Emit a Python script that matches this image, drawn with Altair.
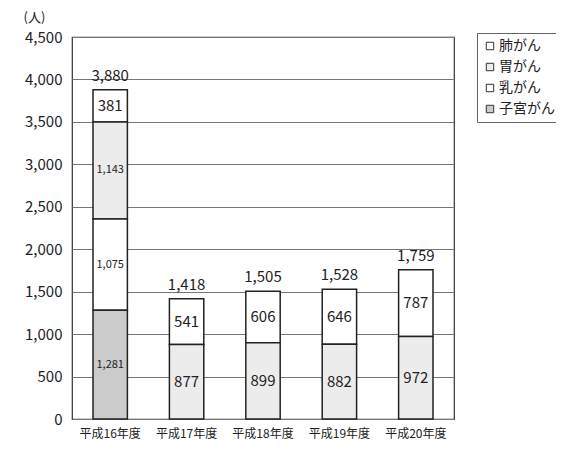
import altair as alt
import pandas as pd

years = ["平成16年度", "平成17年度", "平成18年度", "平成19年度", "平成20年度"]
cancers = ["肺がん", "胃がん", "乳がん", "子宮がん"]
stack_rank = {"子宮がん": 0, "乳がん": 1, "胃がん": 2, "肺がん": 3}
lung = [381, 541, 606, 646, 787]
stomach = [1143, 877, 899, 882, 972]
breast = [1075, None, None, None, None]
uterus = [1281, None, None, None, None]
totals = [3880, 1418, 1505, 1528, 1759]
colors = ["#ffffff", "#ececec", "#ffffff", "#cbcbcb"]

rows = []
for name, vals in zip(cancers, [lung, stomach, breast, uterus]):
    for y, v in zip(years, vals):
        if v is not None:
            rows.append({"year": y, "cancer": name, "value": v, "rank": stack_rank[name],
                         "small": 1 if v >= 1000 else 0})
df = pd.DataFrame(rows)
tot = pd.DataFrame({"year": years, "total": totals})

FONT = "Noto Sans CJK JP"

x = alt.X("year:N", sort=years, title=None,
          axis=alt.Axis(labelAngle=0, labelFontSize=12, labelPadding=9, ticks=False,
                        domain=False, labelColor="#222"))
ybase = alt.Scale(domain=[0, 4500], nice=False)

bars = alt.Chart(df).mark_bar(stroke="#222", strokeWidth=1.5).encode(
    x=x,
    y=alt.Y("value:Q", scale=ybase, stack="zero",
            title="(人)",
            axis=alt.Axis(values=list(range(0, 4501, 500)), format=",d", labelFontSize=15,
                          labelColor="#222", ticks=False, labelPadding=10, domain=False,
                          gridColor="#777", gridWidth=1,
                          titleAngle=0, titleX=-38, titleY=-13, titleFontSize=13,
                          titleFontWeight="normal", titleColor="#222", titleAlign="center")),
    color=alt.Color("cancer:N", scale=alt.Scale(domain=cancers, range=colors),
                    legend=alt.Legend(title=None, orient="none", legendX=405, legendY=-4,
                                      labelFontSize=14, labelColor="#222", symbolType="square",
                                      symbolSize=55, symbolStrokeColor="#333", symbolStrokeWidth=1,
                                      strokeColor="#666", padding=6, rowPadding=7,
                                      labelOffset=2, labelLimit=120)),
    order=alt.Order("rank:Q"),
)

seg = alt.Chart(df).transform_stack(
    stack="value", groupby=["year"], as_=["v0", "v1"], sort=[alt.SortField("rank")]
).transform_calculate(mid="(datum.v0 + datum.v1) / 2")

seg_big = seg.transform_filter("datum.small == 0").mark_text(
    fontSize=15, font=FONT, color="#222").encode(
    x=x, y=alt.Y("mid:Q", scale=ybase), text=alt.Text("value:Q", format=","))
seg_small = seg.transform_filter("datum.small == 1").mark_text(
    fontSize=11, font=FONT, color="#222").encode(
    x=x, y=alt.Y("mid:Q", scale=ybase), text=alt.Text("value:Q", format=","))

tot_text = alt.Chart(tot).mark_text(fontSize=15, font=FONT, color="#222", baseline="bottom",
                                    dy=-6).encode(
    x=x, y=alt.Y("total:Q", scale=ybase), text=alt.Text("total:Q", format=","))

chart = (bars + seg_big + seg_small + tot_text).properties(
    width=382, height=382, autosize=alt.AutoSizeParams(type="none"),
    padding={"left": 64, "top": 29, "right": 102, "bottom": 22},
).configure(font=FONT).configure_view(stroke="#333", strokeWidth=1.2).configure_scale(
    bandPaddingInner=0.55, bandPaddingOuter=0.275)

chart.save("out.html", embed_options={"renderer": "svg", "actions": False})
